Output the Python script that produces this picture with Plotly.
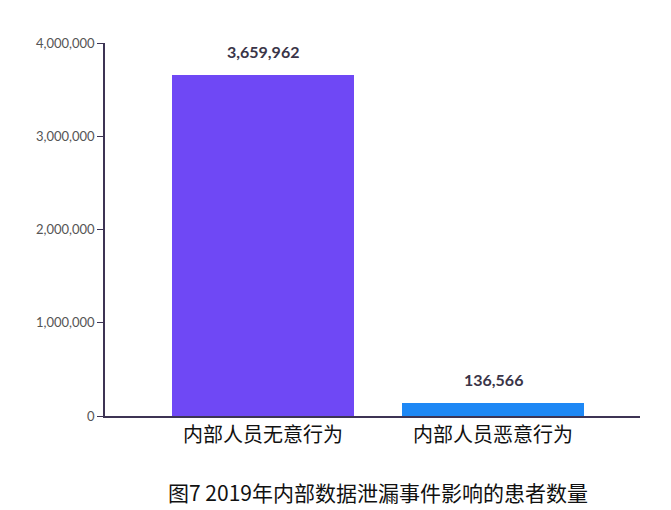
import plotly.graph_objects as go

categories = ['内部人员无意行为', '内部人员恶意行为']
patients = [3659962, 136566]
colors = ['#6f48f5', '#1e88f5']

fig = go.Figure(go.Bar(
    x=[0, 1], y=patients, width=0.79,
    marker=dict(color=colors, line=dict(width=0)),
    cliponaxis=False,
))

# value labels above the bars
value_notes = [dict(
    x=i, y=v, xref='x', yref='y', text=f'<b>{v:,}</b>', showarrow=False,
    yanchor='bottom', yshift=12, font=dict(size=16, color='#3a3548', family='Lato'),
) for i, v in enumerate(patients)]

fig.update_layout(
    width=671, height=510,
    margin=dict(l=97, r=39, t=35, b=102),
    plot_bgcolor='white', paper_bgcolor='white',
    showlegend=False, bargap=0,
    font=dict(family='Noto Sans CJK SC'),
    xaxis=dict(
        range=[-0.687, 1.639], tickmode='array', tickvals=[0, 1], ticktext=categories,
        showline=True, linecolor='#3d3454', linewidth=1.5, ticks='',
        tickfont=dict(size=20, color='#111'), showgrid=False, zeroline=False,
        automargin=False,
    ),
    yaxis=dict(
        range=[0, 4000000], tickvals=[0, 1000000, 2000000, 3000000, 4000000],
        tickformat=',d', showline=True, linecolor='#3d3454', linewidth=1.5,
        ticks='outside', ticklen=6, tickcolor='#3d3454',
        tickfont=dict(size=13, color='#555', family='Lato'),
        showgrid=False, zeroline=False, automargin=False,
    ),
    annotations=value_notes + [dict(
        text='图7 2019年内部数据泄漏事件影响的患者数量', xref='paper', yref='paper',
        x=0.51, y=-0.205, xanchor='center', yanchor='middle', showarrow=False,
        font=dict(size=21, color='#111'),
    )],
)

fig.write_html('out.html')
